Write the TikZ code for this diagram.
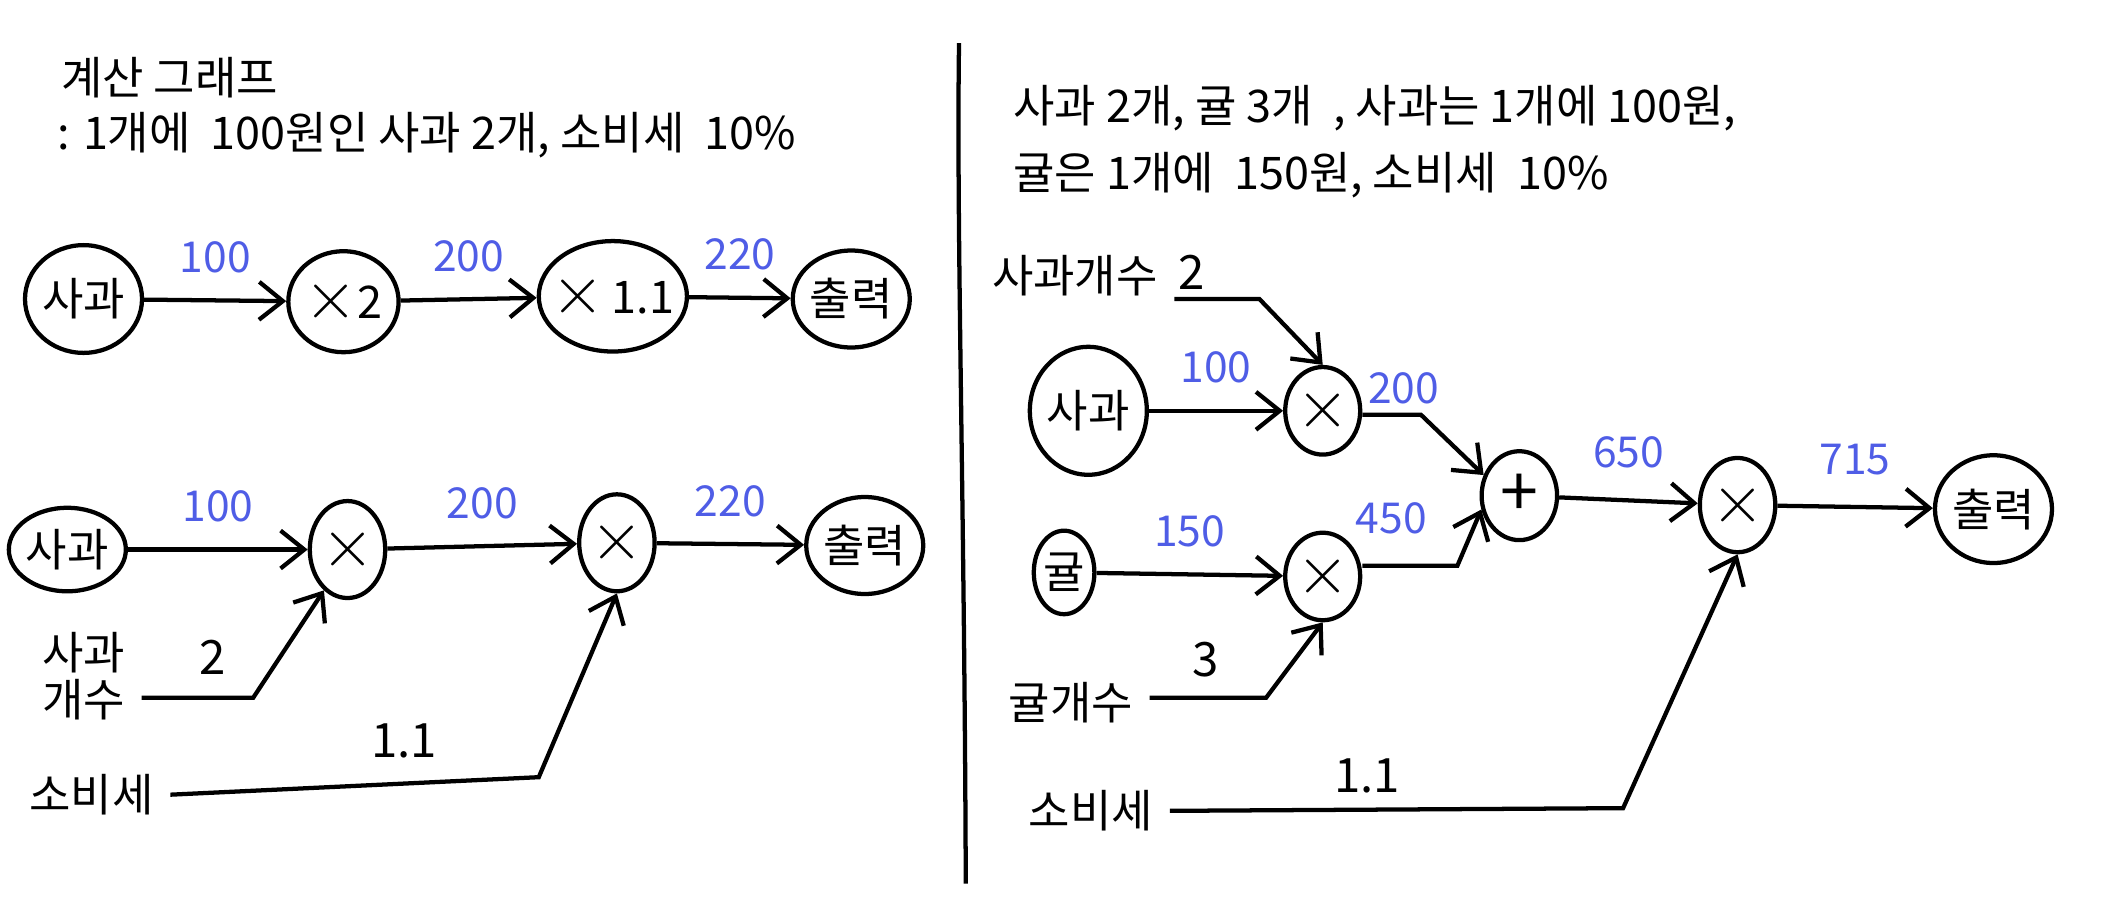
\documentclass[tikz,border=0pt]{standalone}
\usepackage{fontspec}
\setmainfont{Noto Sans CJK KR}
\usepackage{xcolor}
\definecolor{penBlue}{HTML}{4F5DE6}
\usetikzlibrary{shapes.geometric,arrows.meta}
\newcommand{\bigtimes}{{\Large$\times$}}
\tikzset{
  ink/.style={line width=0.9pt},
  blob/.style={draw, ellipse, ink, inner sep=0pt},
  val/.style={text=penBlue, font=\fontsize{9}{10}\selectfont},
  num/.style={font=\fontsize{10}{11}\selectfont},
  word/.style={font=\fontsize{9.5}{12}\selectfont, align=center},
}

\begin{document}
\begin{tikzpicture}[>={Straight Barb[length=5pt,width=8pt]}, font=\fontsize{9.5}{12}\selectfont]
  \useasboundingbox (0,0) rectangle (15.68,6.70);

  % left half
  \node[anchor=west] (titleL) at (0.33,6.12) {계산 그래프};
  \node[anchor=west] (noteL) at (0.30,5.70) {: 1개에\ \ 100원인 사과 2개, 소비세\ \ 10\%};

  \node[blob, minimum width=0.65cm, minimum height=0.80cm] (appleA) at (0.62,4.48) {사과};
  \node[blob, minimum width=0.72cm, minimum height=0.75cm] (mulA) at (2.55,4.46) {\bigtimes2};
  \node[blob, minimum width=1.10cm, minimum height=0.82cm, inner xsep=-2pt] (mulB) at (4.55,4.50) {\bigtimes\,1.1};
  \node[blob, minimum width=0.78cm, minimum height=0.72cm] (outA) at (6.32,4.48) {출력};
  \draw[ink,->] (appleA) -- node[val, above=2pt] {100} (mulA);
  \draw[ink,->] (mulA) -- node[val, above=2pt] {200} (mulB);
  \draw[ink,->] (mulB) -- node[val, above=2pt] {220} (outA);

  \node[blob, minimum width=0.55cm, minimum height=0.62cm] (appleB) at (0.50,2.62) {사과};
  \node[blob, minimum width=0.56cm, minimum height=0.72cm] (mulC) at (2.58,2.62) {\bigtimes};
  \node[blob, minimum width=0.56cm, minimum height=0.72cm] (mulD) at (4.58,2.67) {\bigtimes};
  \node[blob, minimum width=0.66cm, minimum height=0.72cm] (outB) at (6.42,2.65) {출력};
  \draw[ink,->] (appleB) -- node[val, above=2pt] {100} (mulC);
  \draw[ink,->] (mulC) -- node[val, above=2pt] {200} (mulD);
  \draw[ink,->] (mulD) -- node[val, above=2pt] {220} (outB);

  \node[word] (cntA) at (0.62,1.68) {사과\\[-2pt]개수};
  \node[word] (taxA) at (0.68,0.80) {소비세};
  \coordinate (kinkA) at (1.88,1.52);
  \coordinate (kinkB) at (4.00,0.93);
  \draw[ink,->] (cntA.east |- kinkA) -- (kinkA) -- (mulC.240);
  \node[num] (twoA) at (1.58,1.82) {2};
  \draw[ink,->] (taxA.east) -- (kinkB) -- (mulD.270);
  \node[num] (taxValA) at (3.00,1.20) {1.1};

  % divider
  \draw[ink] (7.12,6.38) .. controls (7.10,5.0) and (7.16,3.0) .. (7.17,0.14);

  % right half
  \node[anchor=west] (noteR) at (7.40,5.90) {사과 2개, 귤 3개\ \ , 사과는 1개에 100원,};
  \node[anchor=west] (noteR2) at (7.40,5.40) {귤은 1개에\ \ 150원, 소비세\ \ 10\%};

  \node[word] (cntB) at (7.98,4.65) {사과개수};
  \node[blob, minimum width=0.75cm, minimum height=0.95cm] (appleC) at (8.08,3.65) {사과};
  \node[blob, minimum width=0.55cm, minimum height=0.65cm] (mulE) at (9.82,3.65) {\bigtimes};
  \node[blob, minimum width=0.45cm, minimum height=0.62cm] (orange) at (7.90,2.45) {귤};
  \node[blob, minimum width=0.50cm, minimum height=0.65cm] (mulF) at (9.82,2.42) {\bigtimes};
  \node[blob, minimum width=0.56cm, minimum height=0.66cm] (plus) at (11.28,3.02) {{\Large +}};
  \node[blob, minimum width=0.56cm, minimum height=0.70cm] (mulG) at (12.90,2.95) {\bigtimes};
  \node[blob, minimum width=0.72cm, minimum height=0.80cm] (outC) at (14.80,2.92) {출력};
  \node[word] (cntC) at (7.95,1.48) {귤개수};
  \node[word] (taxB) at (8.10,0.68) {소비세};

  \coordinate (kinkC) at (9.35,4.48);
  \coordinate (kinkD) at (10.55,3.62);
  \coordinate (kinkE) at (10.82,2.50);
  \coordinate (kinkF) at (9.40,1.52);
  \coordinate (kinkG) at (12.05,0.70);

  \draw[ink,->] (cntB.east |- kinkC) -- (kinkC) -- (mulE.north);
  \node[num] (twoB) at (8.85,4.68) {2};
  \draw[ink,->] (appleC) -- node[val, above=2pt] {100} (mulE);
  \draw[ink,->] (mulE.east |- kinkD) -- (kinkD) -- (plus.150);
  \node[val] (valE) at (10.42,3.82) {200};
  \draw[ink,->] (orange) -- node[val, above=2pt] {150} (mulF);
  \draw[ink,->] (mulF.east |- kinkE) -- (kinkE) -- (plus.200);
  \node[val] (valF) at (10.33,2.85) {450};
  \draw[ink,->] (plus) -- node[val, above=3pt] {650} (mulG);
  \draw[ink,->] (mulG) -- node[val, above=3pt] {715} (outC);
  \draw[ink,->] (cntC.east |- kinkF) -- (kinkF) -- (mulF.south);
  \node[num] (three) at (8.95,1.80) {3};
  \draw[ink,->] (taxB.east) -- (kinkG) -- (mulG.south);
  \node[num] (taxValB) at (10.15,0.94) {1.1};
\end{tikzpicture}
\end{document}
